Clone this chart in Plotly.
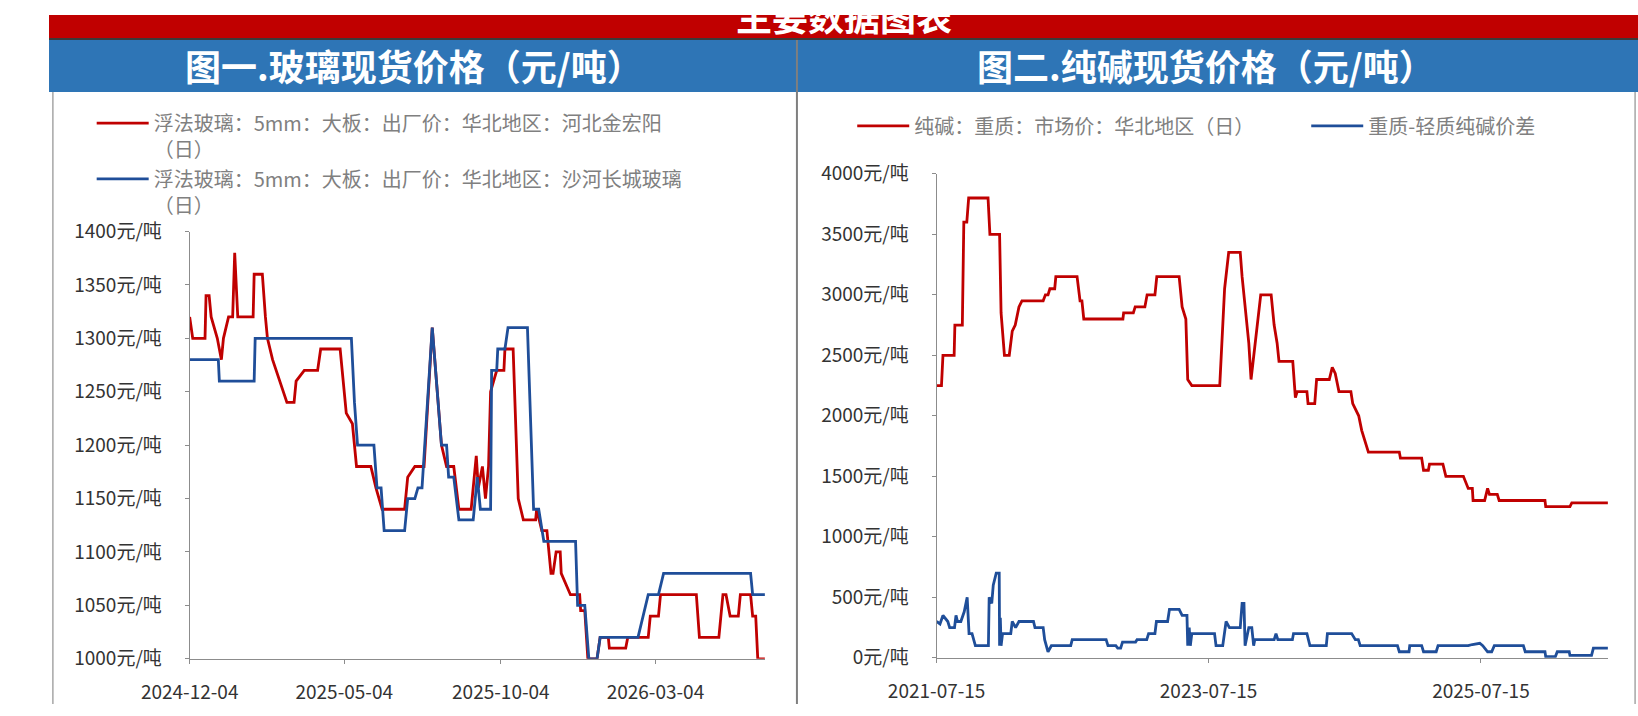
import plotly.graph_objects as go

W, H = 1638, 716

# ---------------- data: glass spot price (left) ----------------
glass_jhy_dates = [
    "2024-12-04", "2024-12-07", "2024-12-19", "2024-12-20", "2024-12-23", "2024-12-25",
    "2024-12-31", "2025-01-04", "2025-01-06", "2025-01-11", "2025-01-15", "2025-01-17",
    "2025-01-20", "2025-02-04", "2025-02-05", "2025-02-13", "2025-02-16", "2025-02-18",
    "2025-02-23", "2025-03-02", "2025-03-09", "2025-03-16", "2025-03-18", "2025-03-26",
    "2025-04-08", "2025-04-11", "2025-04-30", "2025-05-06", "2025-05-12", "2025-05-16",
    "2025-05-30", "2025-06-04", "2025-06-10", "2025-07-02", "2025-07-05", "2025-07-12",
    "2025-07-21", "2025-07-29", "2025-08-07", "2025-08-12", "2025-08-19", "2025-08-24",
    "2025-09-05", "2025-09-10", "2025-09-12", "2025-09-16", "2025-09-19", "2025-09-22",
    "2025-09-24", "2025-09-30", "2025-10-07", "2025-10-08", "2025-10-16", "2025-10-21",
    "2025-10-26", "2025-11-07", "2025-11-08", "2025-11-13", "2025-11-18", "2025-11-22",
    "2025-11-24", "2025-11-27", "2025-12-01", "2025-12-02", "2025-12-11", "2025-12-20",
    "2025-12-21", "2025-12-25", "2025-12-28", "2026-01-06", "2026-01-09", "2026-01-17",
    "2026-01-18", "2026-02-03", "2026-02-05", "2026-02-25", "2026-02-27", "2026-03-07",
    "2026-03-09", "2026-04-13", "2026-04-16", "2026-05-05", "2026-05-09", "2026-05-12",
    "2026-05-16", "2026-05-24", "2026-05-26", "2026-06-05", "2026-06-07", "2026-06-10",
    "2026-06-12", "2026-06-19",
]
glass_jhy_values = [
    1320, 1300, 1300, 1340, 1340, 1320,
    1300, 1280, 1300, 1320, 1320, 1380,
    1320, 1320, 1360, 1360, 1320, 1300,
    1280, 1260, 1240, 1240, 1260, 1270,
    1270, 1290, 1290, 1230, 1220, 1180,
    1180, 1160, 1140, 1140, 1170, 1180,
    1180, 1310, 1200, 1180, 1180, 1140,
    1140, 1190, 1160, 1180, 1150, 1180,
    1250, 1270, 1270, 1290, 1290, 1150,
    1130, 1130, 1140, 1120, 1120, 1080,
    1080, 1100, 1100, 1080, 1060, 1060,
    1045, 1045, 1000, 1000, 1020, 1020,
    1010, 1010, 1020, 1020, 1040, 1040,
    1060, 1060, 1020, 1020, 1060, 1060,
    1040, 1040, 1060, 1060, 1040, 1040,
    1000, 1000,
]

glass_shcc_dates = [
    "2024-12-04", "2025-01-01", "2025-01-02", "2025-02-05", "2025-02-06", "2025-05-11",
    "2025-05-14", "2025-05-17", "2025-06-02", "2025-06-05", "2025-06-09", "2025-06-12",
    "2025-07-02", "2025-07-05", "2025-07-12", "2025-07-15", "2025-07-19", "2025-07-29",
    "2025-08-07", "2025-08-12", "2025-08-14", "2025-08-19", "2025-08-24", "2025-09-07",
    "2025-09-11", "2025-09-14", "2025-09-24", "2025-09-25", "2025-09-30", "2025-10-01",
    "2025-10-08", "2025-10-11", "2025-10-30", "2025-11-05", "2025-11-10", "2025-11-15",
    "2025-12-16", "2025-12-18", "2025-12-25", "2025-12-29", "2026-01-06", "2026-01-09",
    "2026-02-15", "2026-02-25", "2026-03-07", "2026-03-12", "2026-06-05", "2026-06-07",
    "2026-06-19",
]
glass_shcc_values = [
    1280, 1280, 1260, 1260, 1300, 1300,
    1240, 1200, 1200, 1160, 1160, 1120,
    1120, 1150, 1150, 1160, 1160, 1310,
    1200, 1200, 1170, 1170, 1130, 1130,
    1170, 1140, 1140, 1270, 1270, 1290,
    1290, 1310, 1310, 1140, 1140, 1110,
    1110, 1050, 1050, 1000, 1000, 1020,
    1020, 1060, 1060, 1080, 1080, 1060,
    1060,
]

glass_name_1 = "浮法玻璃：5mm：大板：出厂价：华北地区：河北金宏阳<br>（日）"
glass_name_2 = "浮法玻璃：5mm：大板：出厂价：华北地区：沙河长城玻璃<br>（日）"
glass_tick_dates = ["2024-12-04", "2025-05-04", "2025-10-04", "2026-03-04"]
glass_x_range = ["2024-12-04", "2026-06-19"]
glass_y_range = [1000, 1400]

# ---------------- data: soda ash spot price (right) ----------------
soda_heavy_dates = [
    "2021-07-15", "2021-07-28", "2021-08-01", "2021-08-31", "2021-09-02", "2021-09-22",
    "2021-09-26", "2021-10-04", "2021-10-09", "2021-11-30", "2021-12-05", "2021-12-31",
    "2022-01-04", "2022-01-13", "2022-01-26", "2022-02-03", "2022-02-11", "2022-02-21",
    "2022-03-01", "2022-04-27", "2022-05-03", "2022-05-10", "2022-05-15", "2022-05-28",
    "2022-05-31", "2022-07-27", "2022-08-04", "2022-08-09", "2022-08-14", "2022-11-27",
    "2022-11-29", "2022-12-25", "2022-12-30", "2023-01-25", "2023-01-31", "2023-02-21",
    "2023-02-26", "2023-04-27", "2023-05-05", "2023-05-15", "2023-05-20", "2023-05-31",
    "2023-08-14", "2023-08-27", "2023-09-07", "2023-10-08", "2023-10-13", "2023-10-31",
    "2023-11-06", "2023-11-16", "2023-11-24", "2023-12-02", "2023-12-30", "2024-01-07",
    "2024-01-15", "2024-01-20", "2024-02-26", "2024-03-04", "2024-03-09", "2024-04-04",
    "2024-04-07", "2024-04-25", "2024-04-30", "2024-06-03", "2024-06-11", "2024-06-19",
    "2024-06-29", "2024-07-31", "2024-08-05", "2024-08-21", "2024-08-29", "2024-09-16",
    "2024-12-08", "2024-12-11", "2025-02-06", "2025-02-11", "2025-02-24", "2025-02-27",
    "2025-04-04", "2025-04-12", "2025-05-29", "2025-06-11", "2025-06-22", "2025-06-24",
    "2025-07-25", "2025-08-02", "2025-08-07", "2025-08-28", "2025-09-02", "2026-01-03",
    "2026-01-05", "2026-03-11", "2026-03-16", "2026-06-21",
]
soda_heavy_values = [
    2250, 2250, 2500, 2500, 2750, 2750,
    3600, 3600, 3800, 3800, 3500, 3500,
    2850, 2500, 2500, 2700, 2750, 2900,
    2950, 2950, 3000, 3000, 3050, 3050,
    3150, 3150, 2950, 2950, 2800, 2800,
    2850, 2850, 2900, 2900, 3000, 3000,
    3150, 3150, 2900, 2800, 2300, 2250,
    2250, 3050, 3350, 3350, 3150, 2600,
    2300, 2550, 2800, 3000, 3000, 2750,
    2600, 2450, 2450, 2150, 2200, 2200,
    2100, 2100, 2300, 2300, 2400, 2350,
    2200, 2200, 2100, 2000, 1880, 1700,
    1700, 1650, 1650, 1550, 1550, 1600,
    1600, 1500, 1500, 1400, 1400, 1300,
    1300, 1400, 1350, 1350, 1300, 1300,
    1250, 1250, 1280, 1280,
]

soda_spread_dates = [
    "2021-07-15", "2021-07-24", "2021-08-01", "2021-08-14", "2021-08-19", "2021-09-01",
    "2021-09-05", "2021-09-09", "2021-09-18", "2021-09-27", "2021-10-05", "2021-10-10",
    "2021-10-18", "2021-10-27", "2021-12-01", "2021-12-03", "2021-12-10", "2021-12-14",
    "2021-12-22", "2021-12-30", "2021-12-31", "2022-01-02", "2022-01-04", "2022-01-08",
    "2022-01-30", "2022-02-03", "2022-02-12", "2022-02-21", "2022-04-01", "2022-04-05",
    "2022-04-27", "2022-05-01", "2022-05-10", "2022-05-19", "2022-07-10", "2022-07-14",
    "2022-10-13", "2022-10-18", "2022-11-08", "2022-11-13", "2022-11-21", "2022-11-26",
    "2022-12-31", "2023-01-04", "2023-01-30", "2023-02-04", "2023-02-21", "2023-02-25",
    "2023-03-27", "2023-04-01", "2023-04-27", "2023-05-05", "2023-05-18", "2023-05-20",
    "2023-05-24", "2023-05-27", "2023-05-31", "2023-07-31", "2023-08-04", "2023-08-22",
    "2023-08-31", "2023-09-09", "2023-10-08", "2023-10-13", "2023-10-18", "2023-10-21",
    "2023-10-31", "2023-11-08", "2023-11-13", "2023-11-16", "2024-01-07", "2024-01-12",
    "2024-01-17", "2024-02-25", "2024-02-28", "2024-04-04", "2024-04-12", "2024-05-26",
    "2024-05-29", "2024-08-02", "2024-08-12", "2024-08-20", "2024-08-25", "2024-12-03",
    "2024-12-08", "2025-01-03", "2025-01-05", "2025-02-06", "2025-02-11", "2025-03-17",
    "2025-03-22", "2025-06-11", "2025-06-22", "2025-07-12", "2025-07-20", "2025-08-02",
    "2025-08-13", "2025-08-20", "2025-11-06", "2025-11-11", "2026-01-03", "2026-01-05",
    "2026-01-31", "2026-02-05", "2026-03-09", "2026-03-11", "2026-05-08", "2026-05-13",
    "2026-06-21",
]
soda_spread_values = [
    300, 280, 350, 300, 250, 250,
    350, 300, 300, 380, 500, 200,
    200, 100, 100, 500, 450, 600,
    700, 700, 100, 330, 100, 200,
    200, 300, 250, 300, 300, 250,
    250, 150, 50, 100, 100, 150,
    150, 100, 100, 80, 80, 130,
    130, 150, 150, 200, 200, 300,
    300, 400, 400, 350, 350, 100,
    250, 100, 200, 200, 100, 100,
    300, 250, 250, 450, 450, 100,
    250, 250, 100, 150, 150, 200,
    150, 150, 200, 200, 100, 100,
    200, 200, 150, 150, 100, 100,
    50, 50, 100, 100, 50, 50,
    100, 100, 110, 120, 100, 50,
    50, 100, 100, 50, 50, 10,
    10, 50, 50, 20, 20, 80,
    80,
]

soda_name_1 = "纯碱：重质：市场价：华北地区（日）"
soda_name_2 = "重质-轻质纯碱价差"
soda_tick_dates = ["2021-07-15", "2023-07-15", "2025-07-15"]
soda_x_range = ["2021-07-15", "2026-06-21"]
soda_y_range = [0, 4000]

banner_title = "主要数据图表"
left_title = "图一.玻璃现货价格（元/吨）"
right_title = "图二.纯碱现货价格（元/吨）"

# ---------------- styling ----------------
RED = "#C00000"
BLUE = "#1F4E99"
AXIS = "#8C8C8C"
FONT = "Noto Sans CJK SC"


def px_x(p):
    return p / W


def px_y(p):
    return 1 - p / H


fig = go.Figure()

fig.add_trace(go.Scatter(x=glass_jhy_dates, y=glass_jhy_values, mode="lines",
                         name=glass_name_1, line=dict(color=RED, width=2.8),
                         xaxis="x", yaxis="y", legend="legend"))
fig.add_trace(go.Scatter(x=glass_shcc_dates, y=glass_shcc_values, mode="lines",
                         name=glass_name_2, line=dict(color=BLUE, width=2.8),
                         xaxis="x", yaxis="y", legend="legend2"))
fig.add_trace(go.Scatter(x=soda_heavy_dates, y=soda_heavy_values, mode="lines",
                         name=soda_name_1, line=dict(color=RED, width=2.8),
                         xaxis="x2", yaxis="y2", legend="legend3"))
fig.add_trace(go.Scatter(x=soda_spread_dates, y=soda_spread_values, mode="lines",
                         name=soda_name_2, line=dict(color=BLUE, width=2.8),
                         xaxis="x2", yaxis="y2", legend="legend4"))

tickfont = dict(family=FONT, size=19, color="#333333")
common_axis = dict(showline=True, linecolor=AXIS, linewidth=1, ticks="outside",
                   ticklen=4, tickcolor=AXIS, showgrid=False, zeroline=False,
                   tickfont=tickfont, fixedrange=True)

legend_common = dict(bgcolor="rgba(0,0,0,0)", borderwidth=0, itemwidth=52,
                     font=dict(family=FONT, size=20, color="#808080"),
                     xanchor="left", yanchor="top", itemclick=False, valign="top")

fig.update_layout(
    width=W, height=H, autosize=False,
    margin=dict(l=0, r=0, t=0, b=0),
    paper_bgcolor="white", plot_bgcolor="white",
    showlegend=True,
    xaxis=dict(domain=[px_x(145), px_x(738)], type="date", range=glass_x_range,
               tickmode="array", tickvals=glass_tick_dates, ticktext=glass_tick_dates,
               anchor="y", ticklabelstandoff=12, **common_axis),
    yaxis=dict(domain=[px_y(669), px_y(225)], range=glass_y_range, dtick=50,
               tick0=1000, ticksuffix="元/吨", anchor="x", ticklabelstandoff=19,
               **common_axis),
    xaxis2=dict(domain=[px_x(915), px_x(1607)], type="date", range=soda_x_range,
                tickmode="array", tickvals=soda_tick_dates, ticktext=soda_tick_dates,
                anchor="y2", ticklabelstandoff=12, **common_axis),
    yaxis2=dict(domain=[px_y(668), px_y(165)], range=soda_y_range, dtick=500,
                tick0=0, ticksuffix="元/吨", anchor="x2", ticklabelstandoff=19,
                **common_axis),
    legend=dict(x=px_x(44), y=px_y(92), **legend_common),
    legend2=dict(x=px_x(44), y=px_y(150), **legend_common),
    legend3=dict(x=px_x(828), y=px_y(95), **legend_common),
    legend4=dict(x=px_x(1296), y=px_y(95), **legend_common),
)

shapes = [
    # red banner
    dict(type="rect", xref="paper", yref="paper", x0=0, x1=1, y0=px_y(24), y1=1,
         fillcolor=RED, line=dict(width=0), layer="below"),
    dict(type="rect", xref="paper", yref="paper", x0=0, x1=1, y0=px_y(26), y1=px_y(24),
         fillcolor="#3A3A3A", line=dict(width=0), layer="below"),
    # blue header
    dict(type="rect", xref="paper", yref="paper", x0=0, x1=1, y0=px_y(80), y1=px_y(26),
         fillcolor="#2E75B6", line=dict(width=0), layer="below"),
    # panel borders
    dict(type="line", xref="paper", yref="paper", x0=px_x(771), x1=px_x(771),
         y0=0, y1=px_y(26), line=dict(color="#7F7F7F", width=2)),
    dict(type="line", xref="paper", yref="paper", x0=px_x(4), x1=px_x(4),
         y0=0, y1=px_y(80), line=dict(color="#A6A6A6", width=1.5)),
    dict(type="line", xref="paper", yref="paper", x0=px_x(1635), x1=px_x(1635),
         y0=0, y1=px_y(80), line=dict(color="#A6A6A6", width=1.5)),
]
fig.update_layout(shapes=shapes)

annotations = [
    dict(text=banner_title, xref="paper", yref="paper", x=px_x(820), y=px_y(0),
         xanchor="center", yanchor="middle", showarrow=False,
         font=dict(family=FONT, size=36, color="white", weight="bold")),
    dict(text=left_title, xref="paper", yref="paper", x=px_x(376), y=px_y(52),
         xanchor="center", yanchor="middle", showarrow=False,
         font=dict(family=FONT, size=36, color="white", weight="bold")),
    dict(text=right_title, xref="paper", yref="paper", x=px_x(1193), y=px_y(52),
         xanchor="center", yanchor="middle", showarrow=False,
         font=dict(family=FONT, size=36, color="white", weight="bold")),
]
fig.update_layout(annotations=annotations)

fig.write_html("out.html", config={"displayModeBar": False},
               post_script="document.documentElement.style.margin='0';"
                           "document.body.style.margin='0';"
                           "document.body.style.overflow='hidden';")
